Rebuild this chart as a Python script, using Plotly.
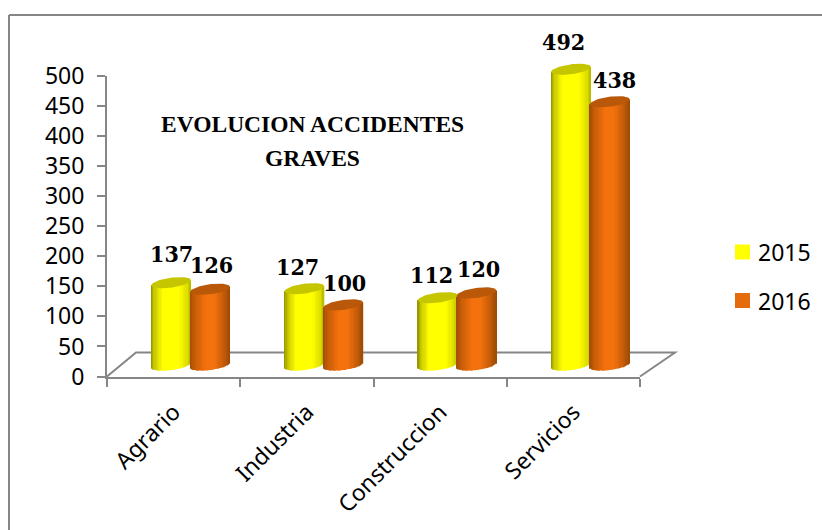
import numpy as np
import plotly.graph_objects as go

categories = ["Agrario", "Industria", "Construccion", "Servicios"]
values_2015 = [137, 127, 112, 492]
values_2016 = [126, 100, 120, 438]
series_names = ["2015", "2016"]
y_ticks = [0, 50, 100, 150, 200, 250, 300, 350, 400, 450, 500]

W, H = 822, 530
AX_L, AX_R, AX_T, AX_B = 107, 640, 76, 376.5   # main axis box in pixels
SHIFT_X, BASE_PX = 17, 365                      # 3-D depth shift of the bars
PX_PER_UNIT = (AX_B - AX_T) / 500
PX_PER_CAT = (AX_R - AX_L) / 4
GREY = "#868686"
TOP2 = 20

CYL_W = 39.5 / PX_PER_CAT
A_PX, TILT_PX, B_PX = 19.8, 2.5, 5.0
N = 32
FONT = "Noto Sans"
SERIF = "Liberation Serif"
LABEL_SERIF = "DejaVu Serif Condensed"

grad = {
    "2015": dict(stops=[(0, "#8f8f00"), (.08, "#c4c400"), (.3, "#ffff00"), (.72, "#ffff00"), (.93, "#dcdc00"), (1, "#b4b400")],
                 top="#c6c600", base="#e6e600", swatch="#ffff00"),
    "2016": dict(stops=[(0, "#a04c06"), (.12, "#c65c08"), (.4, "#f4720e"), (.62, "#f4720e"), (.88, "#c05a08"), (1, "#9a4a06")],
                 top="#b85808", base="#e46c0a", swatch="#e46c0a"),
}


def hex2rgb(h):
    return np.array([int(h[i:i + 2], 16) for i in (1, 3, 5)], float)


def shade(stops, t):
    for (t0, c0), (t1, c1) in zip(stops, stops[1:]):
        if t <= t1:
            f = (t - t0) / (t1 - t0)
            c = hex2rgb(c0) * (1 - f) + hex2rgb(c1) * f
            return "rgb(%d,%d,%d)" % tuple(c)
    return stops[-1][1]


fig = go.Figure()

# invisible carrier so the main category axis is drawn
fig.add_trace(go.Scatter(x=categories, y=[0] * 4, mode="markers", marker=dict(size=1, opacity=0),
                         xaxis="x", yaxis="y", showlegend=False, hoverinfo="skip"))

offsets = {"2015": -CYL_W / 2 * 0.985, "2016": CYL_W / 2 * 0.985}
vals = {"2015": values_2015, "2016": values_2016}
idx = np.arange(len(categories))

for name in series_names:
    g = grad[name]
    off = offsets[name]
    # plain bar carrying the value
    fig.add_trace(go.Bar(x=idx + off, y=vals[name], width=CYL_W * 0.6, name=name,
                         marker=dict(color=g["swatch"], line=dict(width=0)),
                         xaxis="x2", yaxis="y2", showlegend=False,
                         hovertext=categories, hoverinfo="text+y"))
    # shaded strips of the cylinder side
    us = (np.arange(N) + .5) / N * 2 - 1
    xs, bases, heights, cols = [], [], [], []
    for i, v in zip(idx, vals[name]):
        for u in us:
            xs.append(i + off + u * A_PX / PX_PER_CAT)
            low = (TILT_PX * u - B_PX * np.sqrt(1 - u * u)) / PX_PER_UNIT
            high = v + TILT_PX * u / PX_PER_UNIT
            bases.append(low)
            heights.append(high - low)
            cols.append(shade(g["stops"], (u + 1) / 2))
    fig.add_trace(go.Bar(x=xs, y=heights, base=bases, width=2 * A_PX / PX_PER_CAT / N * 1.15,
                         marker=dict(color=cols, line=dict(width=0)),
                         xaxis="x2", yaxis="y2", showlegend=False, hoverinfo="skip"))
    # top ellipse of each cylinder
    th = np.linspace(0, 2 * np.pi, 60)
    for i, v in zip(idx, vals[name]):
        ex = i + off + A_PX * np.cos(th) / PX_PER_CAT
        ey = v + (TILT_PX * np.cos(th) + B_PX * np.sin(th)) / PX_PER_UNIT
        fig.add_trace(go.Scatter(x=ex, y=ey, mode="lines", fill="toself", fillcolor=g["top"],
                                 line=dict(width=0), xaxis="x2", yaxis="y2",
                                 showlegend=False, hoverinfo="skip"))


def px(x):
    return x / W


def py(y):
    return 1 - y / H


shapes = [
    dict(type="line", xref="paper", yref="paper", x0=px(9), y0=py(530), x1=px(9), y1=py(15), line=dict(color=GREY, width=2)),
    dict(type="line", xref="paper", yref="paper", x0=px(9), y0=py(15), x1=px(822), y1=py(15), line=dict(color=GREY, width=2)),
    # floor of the 3-D box
    dict(type="path", xref="paper", yref="paper", layer="below",
         path=f"M {px(AX_L)} {py(AX_B)} L {px(136)} {py(352.5)} L {px(675)} {py(352.5)} L {px(AX_R)} {py(AX_B)}",
         line=dict(color=GREY, width=2)),
]

# legend
legend_y = [252, 300.5]
annotations = []
for name, ly in zip(series_names, legend_y):
    shapes.append(dict(type="rect", xref="paper", yref="paper", x0=px(735), x1=px(750), y0=py(ly - 7.5), y1=py(ly + 7.5),
                       fillcolor=grad[name]["swatch"], line=dict(width=0)))
    annotations.append(dict(xref="paper", yref="paper", x=px(756), y=py(ly), text=name, showarrow=False,
                            xanchor="left", yanchor="middle", font=dict(family=FONT, size=23, color="#000000")))

# title
for t, ty in zip(["EVOLUCION ACCIDENTES", "GRAVES"], [124, 158]):
    annotations.append(dict(xref="paper", yref="paper", x=px(312), y=py(ty), text=f"<b>{t}</b>", showarrow=False,
                            xanchor="center", yanchor="middle", font=dict(family=SERIF, size=23.5, color="#000000")))

# data labels
label_dx = {"2015": [0, -7, -6, -7], "2016": [1, 1, 2, 5]}
label_dy = {"2015": [29, 22, 23, 28], "2016": [25, 22, 24, 22]}
for name in series_names:
    for i, v in zip(idx, vals[name]):
        annotations.append(dict(xref="x2", yref="y2", x=i + offsets[name], y=v, text=f"<b>{v}</b>", showarrow=False,
                                xshift=label_dx[name][i], yshift=label_dy[name][i], xanchor="center", yanchor="middle",
                                font=dict(family=LABEL_SERIF, size=23, color="#000000")))

fig.update_layout(
    width=W, height=H, autosize=False, margin=dict(l=0, r=0, t=0, b=0, autoexpand=False),
    paper_bgcolor="white", plot_bgcolor="rgba(0,0,0,0)", showlegend=False, barmode="overlay",
    shapes=shapes, annotations=annotations,
    xaxis=dict(domain=[px(AX_L), px(AX_R)], type="category", categoryorder="array", categoryarray=categories,
               range=[-0.5, 3.5], anchor="y", showgrid=False, zeroline=False, showline=True, linecolor=GREY, linewidth=2,
               ticks="outside", tickson="boundaries", ticklen=8, tickcolor=GREY, tickwidth=2, tickangle=-45,
               ticklabelstandoff=11, tickfont=dict(family=FONT, size=23, color="#000000")),
    yaxis=dict(domain=[py(AX_B), py(AX_T)], range=[0, 500], anchor="x", tickvals=y_ticks, showgrid=False, zeroline=False,
               showline=True, linecolor=GREY, linewidth=2, ticks="outside", ticklen=8, tickcolor=GREY, tickwidth=2,
               ticklabelstandoff=8, tickfont=dict(family=FONT, size=23, color="#000000")),
    xaxis2=dict(domain=[px(AX_L + SHIFT_X), px(AX_R + SHIFT_X)], type="linear", range=[-0.5, 3.5], anchor="y2", visible=False),
    yaxis2=dict(domain=[py(AX_B), py(TOP2)], range=[(BASE_PX - AX_B) / PX_PER_UNIT, (BASE_PX - TOP2) / PX_PER_UNIT],
                anchor="x2", visible=False),
)

fig.write_html("out.html", config={"displayModeBar": False}, post_script="document.body.style.margin='0';")
